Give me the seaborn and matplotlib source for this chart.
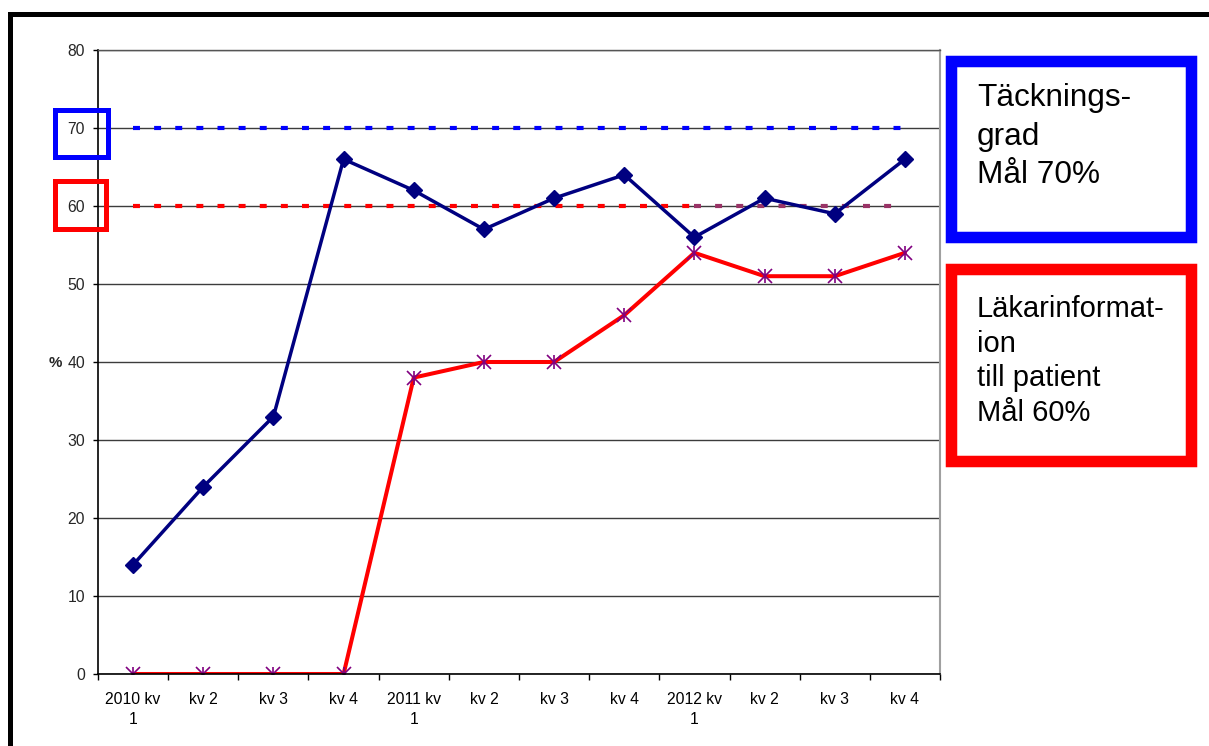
import numpy as np
import matplotlib
matplotlib.use("Agg")
import matplotlib.pyplot as plt
import seaborn as sns
from matplotlib.patches import Rectangle

# ---------------- data ----------------
quarters = ["2010 kv\n1", "kv 2", "kv 3", "kv 4",
            "2011 kv\n1", "kv 2", "kv 3", "kv 4",
            "2012 kv\n1", "kv 2", "kv 3", "kv 4"]
tackningsgrad = [14, 24, 33, 66, 62, 57, 61, 64, 56, 61, 59, 66]
lakarinformation = [0, 0, 0, 0, 38, 40, 40, 46, 54, 51, 51, 54]
mal_tackning = [70, 70, 70, 70, 70, 70, 70, 70, 70, 70, 70, 70]
mal_lakar_2010_2011 = [60, 60, 60, 60, 60, 60, 60, 60, 60]
mal_lakar_2012 = [60, 60, 60, 60]
y_ticks = [0, 10, 20, 30, 40, 50, 60, 70, 80]
box_texts = ["Täcknings-\ngrad\nMål 70%",
             "Läkarinformat-\nion\ntill patient\nMål 60%"]

# ---------------- style ----------------
sns.set_style("white")
plt.rcParams['font.family'] = ['Liberation Sans', 'DejaVu Sans']

W, H = 1209, 746
fig = plt.figure(figsize=(W / 100, H / 100), dpi=100)
fig.patch.set_facecolor("white")


def fx(px):
    return px / W


def fy(py):
    return 1 - py / H


ax = fig.add_axes([fx(98), fy(674), (940 - 98) / W, (674 - 50) / H])

x = np.arange(len(quarters))
dots = (0, (1.67, 3.4))

# goal lines
sns.lineplot(x=x, y=mal_tackning, ax=ax, color="#0000FF", linewidth=3.0,
             linestyle=dots)
sns.lineplot(x=x[:len(mal_lakar_2010_2011)], y=mal_lakar_2010_2011, ax=ax,
             color="#FF0000", linewidth=3.0, linestyle=dots)
sns.lineplot(x=x[8:8 + len(mal_lakar_2012)], y=mal_lakar_2012, ax=ax,
             color="#993366", linewidth=3.0, linestyle=dots)

# data series
sns.lineplot(x=x, y=tackningsgrad, ax=ax, color="#000080", linewidth=2.5,
             marker="D", markersize=8, markeredgecolor="#000080",
             markerfacecolor="#000080", markeredgewidth=1)
sns.lineplot(x=x, y=lakarinformation, ax=ax, color="#FF0000", linewidth=2.9,
             marker="x", markersize=10, markeredgecolor="#800080",
             markeredgewidth=1.2)
ax.plot(x, lakarinformation, ls="none", marker="|", markersize=10,
        markeredgecolor="#800080", markeredgewidth=1.2)

# axes
ax.set_xlim(-0.5, len(quarters) - 0.5)
ax.set_ylim(0, 80)
ax.set_xticks(x)
ax.set_xticklabels(quarters, fontsize=11.3)
for lbl in ax.get_xticklabels():
    lbl.set_linespacing(1.45)
ax.set_xticks(np.arange(-0.5, len(quarters), 1), minor=True)
ax.tick_params(axis="x", which="major", length=0, pad=13, colors="black")
ax.tick_params(axis="x", which="minor", length=4, width=1, direction="out",
               color="black", bottom=True)
ax.set_yticks(y_ticks)
ax.tick_params(axis="y", length=3.6, width=1, direction="out", pad=5.8,
               labelsize=11.3, left=True, color="black")
ax.set_xlabel("")
ax.set_ylabel("%", rotation=0, fontweight="bold", fontsize=10.8,
              ha="right", va="center")
ax.yaxis.set_label_coords((62 - 98) / 842, (674 - 363) / 624)

ax.yaxis.grid(True, color="#3c3c3c", lw=1)
ax.xaxis.grid(False)
ax.set_axisbelow(True)
for s in ["left", "bottom"]:
    ax.spines[s].set_color("black")
    ax.spines[s].set_linewidth(1.2)
ax.spines["top"].set_color("#555555")
ax.spines["top"].set_linewidth(1)
ax.spines["right"].set_color("#a0a0a0")
ax.spines["right"].set_linewidth(1.5)
legend = ax.get_legend()
if legend is not None:
    legend.remove()


# ---------------- decorations ----------------
def rect_px(x0, y0, x1, y1, color, lw_px):
    r = Rectangle((fx(x0), fy(y1)), fx(x1) - fx(x0), fy(y0) - fy(y1),
                  transform=fig.transFigure, fill=False, edgecolor=color,
                  linewidth=lw_px * 0.72, clip_on=False, zorder=5)
    fig.add_artist(r)


# outer frame (extends beyond the image at right and bottom)
rect_px(9.5, 14, 1240, 780, "black", 5)
# small boxes around goal ticks
rect_px(54.5, 109.5, 107.5, 156.5, "#0000FF", 5)
rect_px(54.5, 181.5, 105.5, 228.5, "#FF0000", 5)
# text boxes on the right
rect_px(951, 61, 1191, 237, "#0000FF", 11.5)
rect_px(951, 269, 1191, 461, "#FF0000", 11.5)

fig.text(fx(977), fy(83), box_texts[0], fontsize=22.7, ha="left", va="top",
         linespacing=1.38, color="black")
fig.text(fx(977), fy(295), box_texts[1], fontsize=21, ha="left", va="top",
         linespacing=1.30, color="black")

fig.savefig("out.png", dpi=100)
